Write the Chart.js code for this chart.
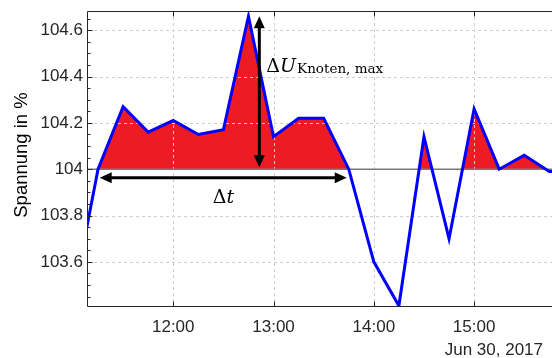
<!DOCTYPE html>
<html>
<head>
<meta charset="utf-8">
<script src="https://cdn.jsdelivr.net/npm/chart.js@4.4.0/dist/chart.umd.min.js"></script>
<style>
  html, body { margin: 0; padding: 0; background: #fff; }
  #wrap { width: 552px; height: 358px; }
</style>
</head>
<body>
<div id="wrap"><canvas id="myChart"></canvas></div>
<script>
// time in minutes after midnight (15 min values), voltage in %
const times = [660, 675, 690, 705, 720, 735, 750, 765, 780, 795, 810, 825, 840, 855, 870, 885, 900, 915, 930, 945, 960];
const voltage = [103.44, 104.0, 104.27, 104.16, 104.21, 104.15, 104.17, 104.66, 104.14, 104.22, 104.22, 104.0, 103.60, 103.41, 104.14, 103.70, 104.26, 104.0, 104.06, 103.99, 103.99];
const baseLevel = 104;
const xTicks = [720, 780, 840, 900];
const yMajor = [103.6, 103.8, 104, 104.2, 104.4, 104.6];
const yMinorStep = 0.05;
const xMin = 669, xMax = 946.6;
const yMin = 103.405, yMax = 104.683;
const dateLabel = 'Jun 30, 2017';
const yTitle = 'Spannung in %';

// annotation arrows
const peakArrow = { x: 771.5, from: 104.0, to: 104.66 };
const spanArrow = { y: 103.963, from: 676, to: 823.8 };

const ctx = document.getElementById('myChart');
const red = 'rgb(237, 28, 36)';
const axisColor = '#262626';
const tickFont = { family: 'Liberation Sans, Arial, sans-serif', size: 17 };

const points = times.map((t, i) => ({ x: t, y: voltage[i] }));

function fmtTime(v) {
    return Math.floor(v / 60) + ':' + String(Math.round(v % 60)).padStart(2, '0');
}

function drawGrid(chart, color) {
    const c = chart.ctx, a = chart.chartArea, xs = chart.scales.x, ys = chart.scales.y;
    c.save();
    c.strokeStyle = color;
    c.lineWidth = 1;
    c.setLineDash([3, 3]);
    c.beginPath();
    xTicks.forEach(v => {
        const px = Math.round(xs.getPixelForValue(v)) + 0.5;
        c.moveTo(px, a.top);
        c.lineTo(px, a.bottom);
    });
    yMajor.forEach(v => {
        if (v === baseLevel) return;
        const py = Math.round(ys.getPixelForValue(v)) + 0.5;
        c.moveTo(a.left, py);
        c.lineTo(a.right, py);
    });
    c.stroke();
    c.restore();
}

function arrowHead(c, x, y, ang) {
    const len = 12, w = 5.5;
    c.beginPath();
    c.moveTo(x, y);
    c.lineTo(x - len * Math.cos(ang) + w * Math.sin(ang), y - len * Math.sin(ang) - w * Math.cos(ang));
    c.lineTo(x - len * Math.cos(ang) - w * Math.sin(ang), y - len * Math.sin(ang) + w * Math.cos(ang));
    c.closePath();
    c.fill();
}

function doubleArrow(c, x1, y1, x2, y2) {
    const ang = Math.atan2(y2 - y1, x2 - x1);
    c.beginPath();
    c.moveTo(x1 + 8 * Math.cos(ang), y1 + 8 * Math.sin(ang));
    c.lineTo(x2 - 8 * Math.cos(ang), y2 - 8 * Math.sin(ang));
    c.stroke();
    arrowHead(c, x2, y2, ang);
    arrowHead(c, x1, y1, ang + Math.PI);
}

const extras = {
    id: 'extras',
    beforeDraw(chart) {
        drawGrid(chart, 'rgb(88, 88, 88)');
    },
    beforeDatasetsDraw(chart) {
        // grid shows through the red fill
        drawGrid(chart, 'rgba(255, 255, 255, 0.7)');
    },
    afterDatasetsDraw(chart) {
        const c = chart.ctx, a = chart.chartArea, xs = chart.scales.x, ys = chart.scales.y;
        c.save();

        // frame with inward ticks
        c.strokeStyle = axisColor;
        c.lineWidth = 1;
        const L = Math.round(a.left) - 0.5, T = Math.round(a.top) + 0.5, B = Math.round(a.bottom) - 0.5;
        c.beginPath();
        c.moveTo(a.right, T); c.lineTo(L, T); c.lineTo(L, B); c.lineTo(a.right, B);
        xTicks.forEach(v => {
            const px = Math.round(xs.getPixelForValue(v)) + 0.5;
            c.moveTo(px, B); c.lineTo(px, B - 5);
            c.moveTo(px, T); c.lineTo(px, T + 5);
        });
        for (let v = yMin; v <= yMax; v += 0.001) {
            const r = Math.round(v / yMinorStep) * yMinorStep;
            if (Math.abs(v - r) > 0.0005) continue;
            const major = yMajor.some(m => Math.abs(m - r) < 1e-6);
            const py = Math.round(ys.getPixelForValue(r)) + 0.5;
            c.moveTo(L, py); c.lineTo(L + (major ? 5 : 3), py);
        }
        c.stroke();

        // arrows
        c.strokeStyle = '#000';
        c.fillStyle = '#000';
        c.lineWidth = 3;
        const ax = xs.getPixelForValue(peakArrow.x);
        doubleArrow(c, ax, ys.getPixelForValue(peakArrow.from) - 2, ax, ys.getPixelForValue(peakArrow.to));
        const ay = ys.getPixelForValue(spanArrow.y);
        doubleArrow(c, xs.getPixelForValue(spanArrow.from), ay, xs.getPixelForValue(spanArrow.to), ay);

        // labels
        c.textBaseline = 'alphabetic';
        c.textAlign = 'left';
        let tx = ax + 7;
        const ty = ys.getPixelForValue(104.42);
        c.font = '19px "DejaVu Serif"';
        c.fillText('\u0394', tx, ty);
        tx += c.measureText('\u0394').width;
        c.font = 'italic 19px "DejaVu Serif"';
        c.fillText('U', tx, ty);
        tx += c.measureText('U').width + 1;
        c.font = '13.5px "DejaVu Serif"';
        c.fillText('Knoten, max', tx, ty + 1);

        c.font = '19px "DejaVu Serif"';
        const dx = xs.getPixelForValue(750);
        const dy = ys.getPixelForValue(103.852);
        const wD = c.measureText('\u0394').width;
        c.font = 'italic 19px "DejaVu Serif"';
        const wT = c.measureText('t').width;
        c.font = '19px "DejaVu Serif"';
        c.fillText('\u0394', dx - (wD + wT) / 2, dy);
        c.font = 'italic 19px "DejaVu Serif"';
        c.fillText('t', dx - (wD + wT) / 2 + wD, dy);

        // date under the time axis
        c.fillStyle = axisColor;
        c.textAlign = 'right';
        c.font = '17px "Liberation Sans", Arial, sans-serif';
        c.fillText(dateLabel, 543, 355);

        // y axis title
        c.fillStyle = '#000';
        c.translate(22, 155);
        c.rotate(-Math.PI / 2);
        c.textAlign = 'center';
        c.textBaseline = 'middle';
        c.font = '18.5px "Liberation Sans", Arial, sans-serif';
        c.fillText(yTitle, 0, 0);
        c.restore();
    }
};

new Chart(ctx, {
    type: 'line',
    data: {
        datasets: [{
            label: 'Spannung',
            data: points,
            borderColor: '#0000ff',
            borderWidth: 3,
            pointRadius: 0,
            tension: 0,
            clip: 0,
            fill: { target: { value: baseLevel }, above: red, below: 'rgba(0,0,0,0)' }
        },
        {
            label: 'base',
            data: [{ x: xMin, y: baseLevel }, { x: xMax, y: baseLevel }],
            borderColor: '#7a7a7a',
            borderWidth: 1.5,
            pointRadius: 0,
            fill: false
        }]
    },
    options: {
        responsive: true,
        maintainAspectRatio: false,
        animation: false,
        layout: { padding: { top: 11, right: 0, left: 0, bottom: 0 } },
        plugins: {
            legend: { display: false },
            tooltip: { enabled: false },
            filler: { drawTime: 'beforeDatasetsDraw' }
        },
        scales: {
            x: {
                type: 'linear',
                min: xMin,
                max: xMax,
                grid: { display: false, drawTicks: false },
                border: { display: false },
                ticks: {
                    font: tickFont,
                    color: axisColor,
                    padding: 10,
                    maxRotation: 0,
                    autoSkip: false,
                    callback: v => fmtTime(v)
                },
                afterBuildTicks: s => { s.ticks = xTicks.map(v => ({ value: v })); },
                afterFit: s => { s.height = 51; s.paddingLeft = 0; s.paddingRight = 0; }
            },
            y: {
                type: 'linear',
                min: yMin,
                max: yMax,
                grid: { display: false, drawTicks: false },
                border: { display: false },
                ticks: {
                    font: tickFont,
                    color: axisColor,
                    padding: 5,
                    autoSkip: false,
                    callback: v => String(+v.toFixed(1))
                },
                afterBuildTicks: s => { s.ticks = yMajor.map(v => ({ value: v })); },
                afterFit: s => { s.width = 88; s.paddingTop = 0; s.paddingBottom = 0; }
            }
        }
    },
    plugins: [extras]
});
</script>
</body>
</html>
